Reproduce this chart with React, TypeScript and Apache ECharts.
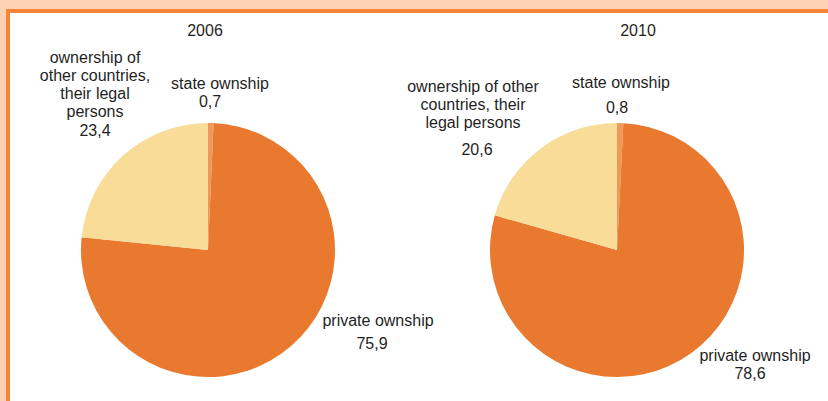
import React, { useEffect, useRef } from "react";
import * as echarts from "echarts";

const years = ["2006", "2010"];
const categories = ["state ownship", "private ownship", "ownership of other countries, their legal persons"];
const values2006 = [0.7, 75.9, 23.4];
const values2010 = [0.8, 78.6, 20.6];
const labels2006 = ["state ownship", "private ownship", "ownership of\nother countries,\ntheir legal\npersons"];
const labels2010 = ["state ownship", "private ownship", "ownership of other\ncountries, their\nlegal persons"];

const colors = ["#ef9857", "#e8792f", "#f9dc97"];

// label layout per chart per slice: x, y(top), name lineHeight, value lineHeight, value padding
const layout2006 = [
  { x: 220, y: 74, nh: 18, vh: 19, vp: [0, 20, 0, 0] },
  { x: 378, y: 311, nh: 18, vh: 28, vp: [0, 12, 0, 0] },
  { x: 95, y: 48, nh: 18, vh: 20, vp: [0, 0, 0, 0] },
];
const layout2010 = [
  { x: 621, y: 73, nh: 18, vh: 32, vp: [0, 8, 0, 0] },
  { x: 755, y: 346, nh: 18, vh: 18, vp: [0, 10, 0, 0] },
  { x: 473, y: 77, nh: 18.3, vh: 35, vp: [0, 0, 0, 8] },
];

const fmt = (v: number) => String(v.toFixed(1)).replace(".", ",");
const FONT = "Liberation Sans, Arial, sans-serif";

function makeSeries(values: number[], labels: string[], lay: any[], center: number[]) {
  return {
    type: "pie",
    center,
    radius: 127,
    startAngle: 90,
    clockwise: true,
    silent: true,
    labelLine: { show: false },
    label: { overflow: "none", bleedMargin: 0, edgeDistance: 0 },
    data: values.map((v, i) => ({
      value: v,
      name: categories[i],
      itemStyle: { color: colors[i] },
      label: {
        show: true,
        overflow: "none",
        width: 200,
        formatter: () => `{n|${labels[i].split("\n").join("}\n{n|")}}\n{v|${fmt(v)}}`,
        rich: {
          n: { fontSize: 16, lineHeight: lay[i].nh, color: "#1f1f1f", fontFamily: FONT },
          v: { fontSize: 16, lineHeight: lay[i].vh, color: "#1f1f1f", fontFamily: FONT, padding: lay[i].vp },
        },
      },
    })),
    labelLayout: (p: any) => ({
      x: lay[p.dataIndex].x,
      y: lay[p.dataIndex].y,
      align: "center",
      verticalAlign: "top",
    }),
  };
}

export default function App() {
  const ref = useRef<HTMLDivElement>(null);
  useEffect(() => {
    document.body.style.margin = "0";
    const chart = echarts.init(ref.current!, null, { renderer: "svg" });
    chart.setOption({
      animation: false,
      backgroundColor: "#ffffff",
      title: [
        { text: years[0], left: 205, top: 21, textAlign: "center", textStyle: { fontSize: 16, lineHeight: 18, fontWeight: "normal", color: "#1f1f1f", fontFamily: FONT }, padding: 0 },
        { text: years[1], left: 638, top: 21, textAlign: "center", textStyle: { fontSize: 16, lineHeight: 18, fontWeight: "normal", color: "#1f1f1f", fontFamily: FONT }, padding: 0 },
      ],
      graphic: [
        { type: "rect", shape: { x: 0, y: 0, width: 828, height: 9 }, style: { fill: "#fdd3b4" }, silent: true },
        { type: "rect", shape: { x: 0, y: 0, width: 6, height: 401 }, style: { fill: "#fdd3b4" }, silent: true },
        { type: "rect", shape: { x: 6, y: 9, width: 822, height: 4 }, style: { fill: "#f7843a" }, silent: true },
        { type: "rect", shape: { x: 6, y: 9, width: 4, height: 392 }, style: { fill: "#f7843a" }, silent: true },
      ],
      series: [
        makeSeries(values2006, labels2006, layout2006, [208, 250]),
        makeSeries(values2010, labels2010, layout2010, [617, 250]),
      ],
    });
    return () => chart.dispose();
  }, []);
  return <div ref={ref} style={{ width: 828, height: 401 }} />;
}
